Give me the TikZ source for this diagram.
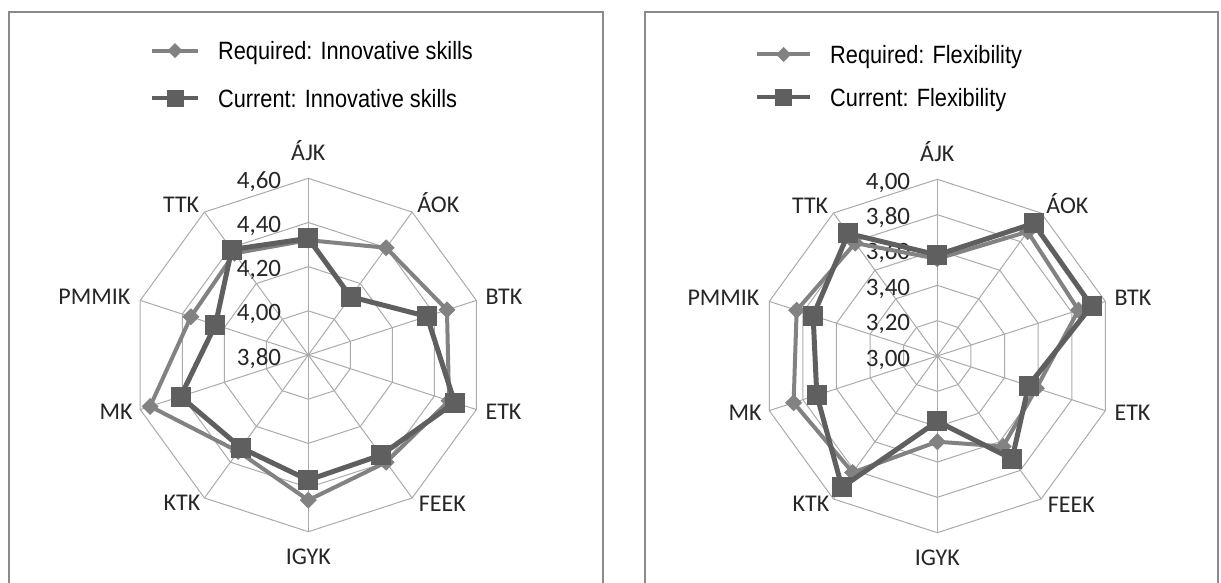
\documentclass[tikz,border=0pt]{standalone}
\usepackage{fontspec}
\setmainfont{Carlito}
\newfontfamily\legfont{Liberation Sans}[FakeStretch=0.87]
\definecolor{gridc}{HTML}{ABABAB}
\definecolor{framec}{HTML}{8A8A8A}
\definecolor{reqc}{HTML}{828282}
\definecolor{curc}{HTML}{5F5F5F}
\tikzset{
  gridline/.style={draw=gridc, line width=1pt},
  frameline/.style={draw=framec, line width=2pt},
  reqline/.style={draw=reqc, line width=4pt, line join=round, line cap=round},
  curline/.style={draw=curc, line width=5pt, line join=round, line cap=round},
  axlab/.style={inner sep=0pt, font=\fontsize{24}{28}\selectfont, text=black!85},
  ticklab/.style={inner sep=0pt, anchor=base east, font=\fontsize{25}{29}\selectfont, text=black!85},
  leglab/.style={inner sep=0pt, anchor=base west, font=\legfont\fontsize{25}{29}\selectfont, text=black},
}
\newcommand{\diamondmark}[2]{\fill[reqc] (#1) +(0,#2) -- +(#2,0) -- +(0,-#2) -- +(-#2,0) -- cycle;}
\newcommand{\squaremark}[2]{\fill[curc] (#1) +(-#2,-#2) rectangle +(#2,#2);}
% #1 prefix, #2 number of rings
\newcommand{\radargrid}[2]{%
  \foreach \k in {1,...,#2} {
    \pgfmathsetmacro{\rr}{176.7*\k/#2}
    \draw[gridline] (90:\rr) \foreach \i in {1,...,9} { -- ({90-36*\i}:\rr) } -- cycle;
  }
  \foreach \i in {0,...,9} {
    \coordinate (#1v\i) at ({90-36*\i}:176.7);
    \draw[gridline] (0,0) -- (#1v\i);
  }
}
\newcommand{\radarlabels}[1]{%
  \path (#1v0) ++(0,18) node[axlab, anchor=base] (#1lab0) {ÁJK};
  \path (#1v1) ++(5,-0.5) node[axlab, anchor=base west] (#1lab1) {ÁOK};
  \path (#1v2) ++(9,-4.5) node[axlab, anchor=base west] (#1lab2) {BTK};
  \path (#1v3) ++(9,-9.7) node[axlab, anchor=base west] (#1lab3) {ETK};
  \path (#1v4) ++(6.5,-13.7) node[axlab, anchor=base west] (#1lab4) {FEEK};
  \path (#1v5) ++(0,-33) node[axlab, anchor=base] (#1lab5) {IGYK};
  \path (#1v6) ++(-4,-12.7) node[axlab, anchor=base east] (#1lab6) {KTK};
  \path (#1v7) ++(-7.5,-9.7) node[axlab, anchor=base east] (#1lab7) {MK};
  \path (#1v8) ++(-9.6,-4.5) node[axlab, anchor=base east] (#1lab8) {PMMIK};
  \path (#1v9) ++(-5,-0.5) node[axlab, anchor=base east] (#1lab9) {TTK};
}
% #1 prefix, #2 min, #3 range, #4 req list, #5 cur list
\newcommand{\radarseries}[5]{%
  \foreach \v [count=\i from 0] in {#4} {
    \coordinate (#1r\i) at ({90-36*\i}:{176.7*(\v-#2)/#3});
  }
  \foreach \v [count=\i from 0] in {#5} {
    \coordinate (#1c\i) at ({90-36*\i}:{176.7*(\v-#2)/#3});
  }
  \draw[reqline] (#1r0) -- (#1r1) -- (#1r2) -- (#1r3) -- (#1r4) -- (#1r5) -- (#1r6) -- (#1r7) -- (#1r8) -- (#1r9) -- cycle;
  \foreach \i in {0,...,9} { \diamondmark{#1r\i}{8.5} }
  \draw[curline] (#1c0) -- (#1c1) -- (#1c2) -- (#1c3) -- (#1c4) -- (#1c5) -- (#1c6) -- (#1c7) -- (#1c8) -- (#1c9) -- cycle;
  \foreach \i in {0,...,9} { \squaremark{#1c\i}{10} }
}
\begin{document}
\begin{tikzpicture}[x=1pt, y=-1pt]
\useasboundingbox (0,0) rectangle (1221,583);
\clip (0,0) rectangle (1221,583);
\fill[white] (0,0) rectangle (1221,583);
% frames
\draw[frameline] (9,600) -- (9,12.5) -- (603,12.5) -- (603,600);
\draw[frameline] (645,600) -- (645,12.5) -- (1218,12.5) -- (1218,600);
% legends
\coordinate (la1) at (152,50.7); \coordinate (lb1) at (198,50.7); \coordinate (lm1) at (175,50.7);
\coordinate (la2) at (152,98.5); \coordinate (lb2) at (198,98.5); \coordinate (lm2) at (175,98.5);
\draw[reqline, line cap=butt] (la1) -- (lb1); \diamondmark{lm1}{7.5}
\draw[curline, line width=4pt, line cap=butt] (la2) -- (lb2); \squaremark{lm2}{8.5}
\node[leglab] (lt1) at (218,59.7) {Required: Innovative skills};
\node[leglab] (lt2) at (218,107.5) {Current: Innovative skills};
\coordinate (ra1) at (757,54.5); \coordinate (rb1) at (810,54.5); \coordinate (rm1) at (783.5,54.5);
\coordinate (ra2) at (757,97.3); \coordinate (rb2) at (810,97.3); \coordinate (rm2) at (783.5,97.3);
\draw[reqline, line cap=butt] (ra1) -- (rb1); \diamondmark{rm1}{7.5}
\draw[curline, line width=4pt, line cap=butt] (ra2) -- (rb2); \squaremark{rm2}{8.5}
\node[leglab] (rt1) at (830,63.5) {Required: Flexibility};
\node[leglab] (rt2) at (830,106.3) {Current: Flexibility};
% left radar
\begin{scope}[shift={(308.3,355)}, y=1pt]
  \radargrid{L}{4}
  \node[ticklab] (Lt0) at (-27,-10) {3,80};
  \node[ticklab] (Lt1) at (-27,{176.7/4-10}) {4,00};
  \node[ticklab] (Lt2) at (-27,{176.7/2-10}) {4,20};
  \node[ticklab] (Lt3) at (-27,{176.7*3/4-10}) {4,40};
  \node[ticklab] (Lt4) at (-27,{176.7-10}) {4,60};
  \radarlabels{L}
  \radarseries{L}{3.8}{0.8}{4.32,4.40,4.46,4.47,4.40,4.457,4.34,4.553,4.359,4.369}{4.328,4.126,4.365,4.497,4.36,4.366,4.319,4.408,4.242,4.39}
\end{scope}
% right radar
\begin{scope}[shift={(937.3,356)}, y=1pt]
  \radargrid{R}{5}
  \node[ticklab] (Rt0) at (-27,-10) {3,00};
  \node[ticklab] (Rt1) at (-27,{176.7/5-10}) {3,20};
  \node[ticklab] (Rt2) at (-27,{176.7*2/5-10}) {3,40};
  \node[ticklab] (Rt3) at (-27,{176.7*3/5-10}) {3,60};
  \node[ticklab] (Rt4) at (-27,{176.7*4/5-10}) {3,80};
  \node[ticklab] (Rt5) at (-27,{176.7-10}) {4,00};
  \radarlabels{R}
  \radarseries{R}{3.0}{1.0}{3.55,3.87,3.84,3.59,3.633,3.485,3.815,3.855,3.837,3.79}{3.572,3.927,3.918,3.543,3.72,3.37,3.918,3.717,3.739,3.857}
\end{scope}
\end{tikzpicture}
\end{document}
